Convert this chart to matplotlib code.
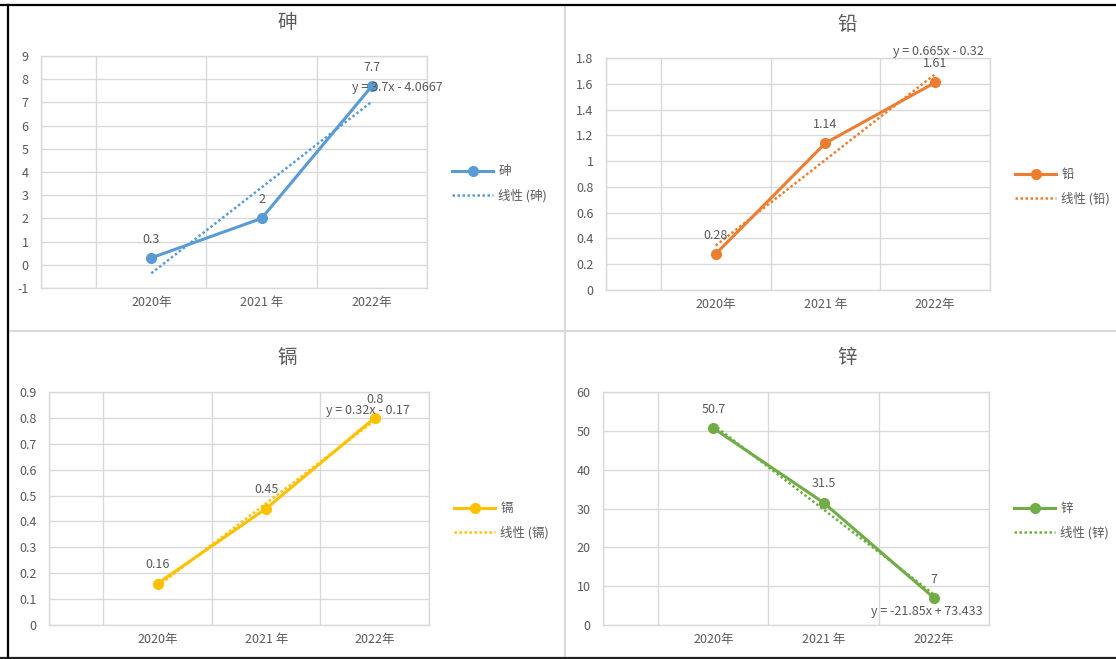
import matplotlib.pyplot as plt
import numpy as np
from matplotlib.lines import Line2D
from matplotlib.ticker import FuncFormatter

plt.rcParams['font.family'] = ['Noto Sans CJK SC', 'DejaVu Sans']

# Data
years = ['2020年', '2021 年', '2022年']
arsenic = [0.3, 2, 7.7]
lead = [0.28, 1.14, 1.61]
cadmium = [0.16, 0.45, 0.8]
zinc = [50.7, 31.5, 7]

names = ['砷', '铅', '镉', '锌']
series = [arsenic, lead, cadmium, zinc]
equations = ['y = 3.7x - 4.0667', 'y = 0.665x - 0.32',
             'y = 0.32x - 0.17', 'y = -21.85x + 73.433']
y_limits = [(-1, 9), (0, 1.8), (0, 0.9), (0, 60)]
y_steps = [1, 0.2, 0.1, 10]

colors = ['#5B9BD5', '#ED7D31', '#FFC000', '#70AD47']
text_color = '#595959'
grid_color = '#D9D9D9'
fs = 9

W, H = 1116, 659
fig = plt.figure(figsize=(W / 100, H / 100), dpi=100)

# plot areas in pixels: left, top, right, bottom
rects = [(41, 56, 427, 288), (606, 58, 990, 290),
         (49, 392, 429, 625), (603, 392, 989, 625)]
titles_pos = [(287, 23), (847, 24), (287, 358), (847, 358)]
legend_pos = [(452, 184), (1015, 187), (454, 521), (1014, 521)]
# equation label position (axes fraction) and alignment
eq_pos = [((0.805, 0.865), 'left'), ((0.865, 1.03), 'center'),
          ((0.84, 0.92), 'center'), ((0.84, 0.06), 'center')]

x_pos = np.array([2, 4, 6])  # category centres, 7 grid cells

for i, vals in enumerate(series):
    l, t, r, b = rects[i]
    ax = fig.add_axes([l / W, 1 - b / H, (r - l) / W, (b - t) / H])
    c = colors[i]

    # trend line (Excel uses x = 1, 2, 3)
    k = np.arange(1, len(vals) + 1)
    slope, intercept = np.polyfit(k, vals, 1)
    ax.plot(x_pos, slope * k + intercept, color=c, lw=1.8,
            linestyle=(0, (1, 1)), label='线性 (' + names[i] + ')', zorder=3)
    ax.plot(x_pos, vals, color=c, lw=2.2, marker='o', markersize=7,
            label=names[i], zorder=4)

    for xp, v in zip(x_pos, vals):
        ax.annotate('{:g}'.format(v), (xp, v), xytext=(0, 13.5),
                    textcoords='offset points', ha='center', va='center',
                    fontsize=fs, color=text_color)

    (ex, ey), ha = eq_pos[i]
    ax.text(ex, ey, equations[i], transform=ax.transAxes, ha=ha, va='center',
            fontsize=fs, color=text_color, zorder=5)

    lo, hi = y_limits[i]
    ax.set_ylim(lo, hi)
    ax.set_yticks(np.round(np.arange(lo, hi + y_steps[i] / 2, y_steps[i]), 3))
    ax.yaxis.set_major_formatter(FuncFormatter(lambda v, p: '{:g}'.format(round(v, 3))))
    ax.set_xlim(0, 7)
    ax.set_xticks(x_pos)
    ax.set_xticklabels(years)
    ax.set_xticks(range(8), minor=True)
    ax.grid(True, which='minor', axis='x', color=grid_color, lw=1)
    ax.grid(True, which='major', axis='y', color=grid_color, lw=1)
    ax.set_axisbelow(True)
    ax.tick_params(which='both', length=0, labelsize=fs, labelcolor=text_color)
    ax.tick_params(axis='y', pad=9)
    ax.tick_params(axis='x', pad=6)
    for s in ax.spines.values():
        s.set_color(grid_color)
        s.set_linewidth(1)

    tx, ty = titles_pos[i]
    fig.text(tx / W, 1 - ty / H, names[i], ha='center', va='center',
             fontsize=14, color=text_color)

    handles, labels = ax.get_legend_handles_labels()
    lx, ly = legend_pos[i]
    ax.legend(handles[::-1], labels[::-1], loc='center left',
              bbox_to_anchor=(lx / W, 1 - ly / H), bbox_transform=fig.transFigure,
              frameon=False, borderpad=0, borderaxespad=0, handlelength=3.3,
              handletextpad=0.4, labelspacing=0.85, fontsize=fs,
              labelcolor=text_color, numpoints=1)

# panel frame lines
def hline(y, x0, x1, color, lw):
    fig.add_artist(Line2D([x0 / W, x1 / W], [1 - y / H, 1 - y / H],
                          transform=fig.transFigure, color=color, lw=lw))

def vline(x, y0, y1, color, lw):
    fig.add_artist(Line2D([x / W, x / W], [1 - y0 / H, 1 - y1 / H],
                          transform=fig.transFigure, color=color, lw=lw))

vline(565, 5, 658, grid_color, 1.5)
hline(331, 8, W, grid_color, 1.5)
hline(5, 0, W, 'black', 1.6)
hline(657.5, 0, W, '#222222', 1.6)
vline(8, 5, 658, 'black', 1.6)

plt.savefig('out.png', dpi=100)
